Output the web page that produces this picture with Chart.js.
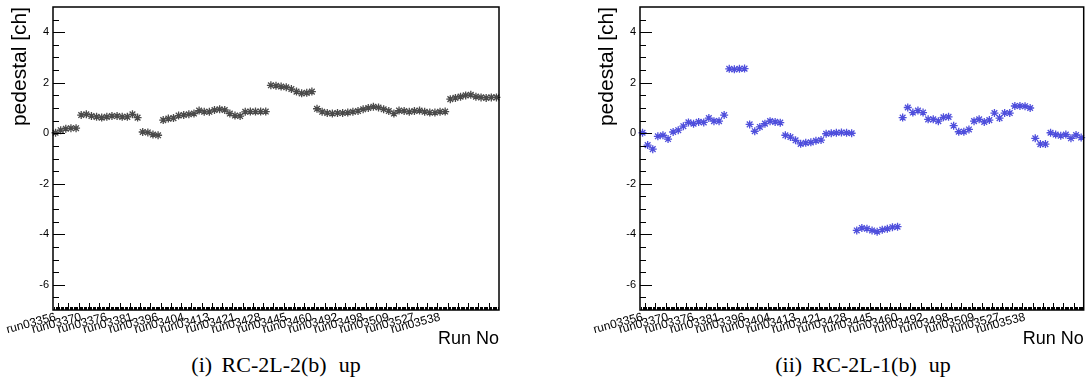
<!DOCTYPE html>
<html lang="en">
<head>
    <meta charset="UTF-8">
    <title>Pedestal per run</title>
    <script src="https://cdn.jsdelivr.net/npm/chart.js"></script>
    <style>
        * {
            margin: 0;
            padding: 0;
            box-sizing: border-box;
        }

        body {
            background: #ffffff;
            width: 1089px;
            height: 380px;
            position: relative;
            overflow: hidden;
            font-family: 'Liberation Sans', Arial, sans-serif;
        }

        .panel {
            position: absolute;
            top: 0;
            height: 350px;
        }

        #panelA { left: 0; width: 520px; }
        #panelB { left: 587px; width: 502px; }

        .caption {
            position: absolute;
            top: 352px;
            transform: translateX(-50%);
            white-space: nowrap;
            font-family: 'Liberation Serif', 'DejaVu Serif', serif;
            font-size: 22px;
            color: #000;
            word-spacing: 4px;
        }

        .caption .up {
            margin-left: 12px;
        }
    </style>
</head>
<body>
    <div class="panel" id="panelA"><canvas id="chartA" width="520" height="350"></canvas></div>
    <div class="panel" id="panelB"><canvas id="chartB" width="502" height="350"></canvas></div>

    <div class="caption" style="left: 276px;">(i) RC-2L-2(b)<span class="up">up</span></div>
    <div class="caption" style="left: 863px;">(ii) RC-2L-1(b)<span class="up">up</span></div>

    <script>
        // run names, one label every 5 entries
        const runLabels = ['run03356', 'run03370', 'run03376', 'run03381', 'run03396', 'run03404',
            'run03413', 'run03421', 'run03428', 'run03445', 'run03460', 'run03492',
            'run03498', 'run03509', 'run03527', 'run03538'];
        const labelEvery = 5;

        const yTicks = [-6, -4, -2, 0, 2, 4];
        const yMin = -7;
        const yMax = 5;

        // (i) RC-2L-2(b) up
        const pedestalA = [
            0.02, 0.12, 0.18, 0.2, 0.2,
            0.72, 0.75, 0.68, 0.65, 0.62, 0.65, 0.68, 0.68, 0.65, 0.65, 0.75, 0.62,
            0.05, 0.03, -0.05, -0.08,
            0.52, 0.58, 0.6, 0.7, 0.72, 0.75, 0.78, 0.9, 0.85, 0.85, 0.92, 0.95, 0.92, 0.78, 0.7, 0.68,
            0.85, 0.86, 0.86, 0.86, 0.86,
            1.9, 1.88, 1.85, 1.82, 1.75, 1.65, 1.58, 1.6, 1.65,
            0.97, 0.85, 0.8, 0.78, 0.8, 0.8, 0.82, 0.85, 0.88, 0.95, 1.0, 1.05, 1.02, 0.95, 0.88, 0.78,
            0.9, 0.88, 0.85, 0.88, 0.9, 0.85, 0.82, 0.82, 0.85, 0.86,
            1.35, 1.4, 1.45, 1.5, 1.52, 1.45, 1.42, 1.4, 1.42, 1.42
        ];

        // (ii) RC-2L-1(b) up
        const pedestalB = [
            0.02, -0.47, -0.63, -0.12, -0.08, -0.23, 0.05, 0.12, 0.28, 0.43, 0.38, 0.45, 0.43, 0.6, 0.48, 0.48, 0.72,
            2.55, 2.53, 2.55, 2.56,
            0.35, 0.08, 0.25, 0.38, 0.48, 0.45, 0.42,
            -0.08, -0.15, -0.28, -0.42, -0.38, -0.36, -0.3, -0.27,
            -0.02, 0.0, 0.02, 0.03, 0.02, 0.0,
            -3.85, -3.75, -3.78, -3.85, -3.9, -3.82, -3.78, -3.72, -3.7,
            0.62, 1.02, 0.82, 0.9, 0.82, 0.55, 0.55, 0.48, 0.63, 0.65, 0.3, 0.06, 0.06, 0.15,
            0.48, 0.55, 0.45, 0.52, 0.8, 0.6, 0.8, 0.8, 1.08, 1.08, 1.07, 1.0,
            -0.2, -0.43, -0.43, 0.02, -0.05, -0.1, -0.05, -0.2, -0.07, -0.17
        ];

        const binLabels = pedestalA.map((v, i) => i % labelEvery === 0 ? (runLabels[i / labelEvery] || '') : '');

        // ROOT style frame with inward ticks
        const rootFrame = {
            id: 'rootFrame',
            afterDraw(chart) {
                const ctx = chart.ctx;
                const area = chart.chartArea;
                const xs = chart.scales.x;
                const ys = chart.scales.y;
                ctx.save();
                ctx.strokeStyle = '#000';
                ctx.lineWidth = 1;
                ctx.beginPath();
                for (let v = yMin + 0.5; v < yMax; v += 0.5) {
                    const y = Math.round(ys.getPixelForValue(v)) + 0.5;
                    const len = (v % 2 === 0) ? 12 : 6;
                    ctx.moveTo(area.left, y);
                    ctx.lineTo(area.left + len, y);
                }
                const n = binLabels.length;
                for (let k = 1; k < n * 4; k++) {
                    const x = Math.round(xs.getPixelForValue(-0.5 + k / 4)) + 0.5;
                    const len = (k % 8 === 4) ? 7 : 3;
                    ctx.moveTo(x, area.bottom);
                    ctx.lineTo(x, area.bottom - len);
                }
                ctx.stroke();
                ctx.lineWidth = 1.5;
                ctx.strokeRect(area.left, area.top, area.right - area.left, area.bottom - area.top);
                ctx.restore();
            }
        };

        function makePanel(id, values, color, rightPad) {
            return new Chart(document.getElementById(id), {
                type: 'line',
                data: {
                    labels: binLabels,
                    datasets: [{
                        data: values,
                        showLine: false,
                        pointStyle: 'star',
                        pointRadius: 4,
                        pointBorderWidth: 1.3,
                        borderColor: color,
                        backgroundColor: color,
                        pointHoverRadius: 4
                    }]
                },
                options: {
                    responsive: false,
                    animation: false,
                    devicePixelRatio: 1,
                    layout: { padding: { top: 7, right: rightPad, left: 0, bottom: 0 } },
                    plugins: {
                        legend: { display: false },
                        tooltip: { enabled: false }
                    },
                    scales: {
                        x: {
                            type: 'category',
                            offset: true,
                            grid: { display: false, drawTicks: false },
                            border: { display: false },
                            ticks: {
                                autoSkip: false,
                                minRotation: 15,
                                maxRotation: 15,
                                padding: 0,
                                color: '#000',
                                font: { family: 'Liberation Sans', size: 12 }
                            },
                            title: {
                                display: true,
                                text: 'Run No',
                                align: 'end',
                                color: '#000',
                                font: { family: 'Liberation Sans', size: 18 },
                                padding: { top: 0, bottom: 0 }
                            },
                            afterFit(s) {
                                s.height = 40;
                                s.paddingLeft = 0;
                                s.paddingRight = 0;
                            }
                        },
                        y: {
                            min: yMin,
                            max: yMax,
                            afterBuildTicks(s) {
                                s.ticks = yTicks.map(v => ({ value: v }));
                            },
                            grid: { display: false, drawTicks: false },
                            border: { display: false },
                            ticks: {
                                padding: 4,
                                color: '#000',
                                font: { family: 'Liberation Sans', size: 11 }
                            },
                            title: {
                                display: true,
                                text: 'pedestal [ch]',
                                align: 'end',
                                color: '#000',
                                font: { family: 'Liberation Sans', size: 21 },
                                padding: { top: 8, bottom: 0 }
                            },
                            afterFit(s) {
                                s.width = 53;
                                s.paddingTop = 0;
                                s.paddingBottom = 0;
                            }
                        }
                    }
                },
                plugins: [rootFrame]
            });
        }

        makePanel('chartA', pedestalA, '#4a4a4a', 21);
        makePanel('chartB', pedestalB, '#4f4fdc', 3);
    </script>
</body>
</html>
